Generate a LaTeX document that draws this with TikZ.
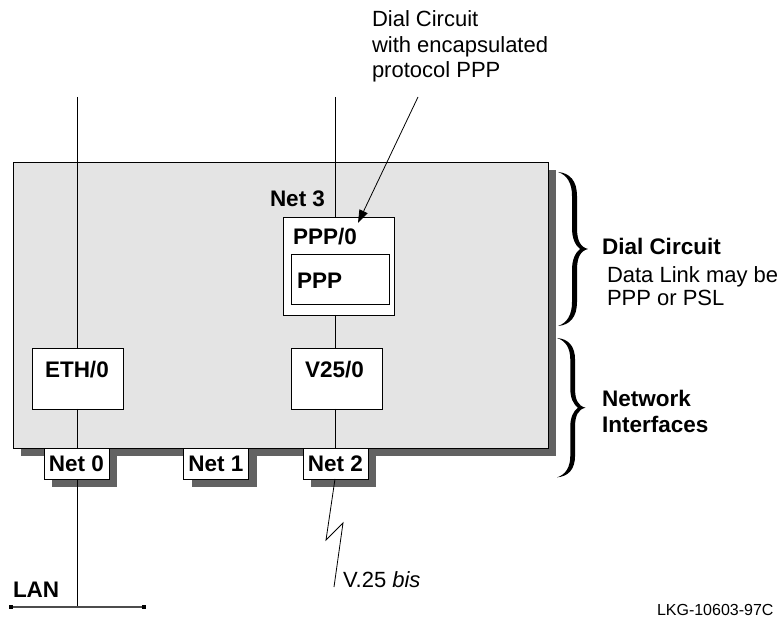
\documentclass[tikz,border=0pt]{standalone}
\usepackage{fontspec}
\setmainfont{Liberation Sans}
\usetikzlibrary{arrows.meta,shadows}
\definecolor{panelgray}{HTML}{E4E4E4}
\definecolor{shadegray}{HTML}{626262}
\newcommand\lblbf{\fontsize{22.5}{26}\selectfont\bfseries}
\newcommand\lblrm{\fontsize{22}{25.5}\selectfont}
\begin{document}
\begin{tikzpicture}[x=1pt,y=-1pt,
  box/.style={draw, line width=0.9pt, fill=white, inner sep=0pt, outer sep=0pt},
  shadowed/.style={drop shadow={shadow xshift=8pt, shadow yshift=-8pt, fill=shadegray, opacity=1}},
  netbox/.style={box, shadowed, minimum width=65pt, minimum height=31pt, font=\lblbf},
  wire/.style={line width=0.8pt},
  lbl/.style={inner sep=0pt, outer sep=0pt, anchor=base west},
  boldlbl/.style={lbl, font=\lblbf},
  plainlbl/.style={lbl, font=\lblrm},
  bracefill/.style={fill=black}]
\useasboundingbox (0,0) rectangle (782,617);

% main panel
\node[box, shadowed, fill=panelgray, minimum width=535pt, minimum height=286pt] (router) at (280.5,305) {};

% interface boxes
\node[box, minimum width=111pt, minimum height=98pt] (ppp0) at (338.5,266) {};
\node[box, minimum width=98pt, minimum height=50pt] (ppp) at (340,279) {};
\node[box, minimum width=91pt, minimum height=61pt] (eth) at (77.5,378.5) {};
\node[box, minimum width=91pt, minimum height=61pt] (v25) at (336.5,378.5) {};

% net boxes
\node[netbox] (net0) at (76.5,463.5) {Net 0};
\node[netbox] (net1) at (216,463.5) {Net 1};
\node[netbox] (net2) at (335.5,463.5) {Net 2};

% labels inside
\node[boldlbl] (net3) at (270,207) {Net 3};
\node[boldlbl] (ppp0t) at (293,245) {PPP/0};
\node[boldlbl] (pppt) at (297,289) {PPP};
\node[boldlbl] (etht) at (45,378) {ETH/0};
\node[boldlbl] (v25t) at (305,378) {V25/0};

% coordinates
\coordinate (ltop) at (77,97);
\coordinate (mtop) at (335,97);
\coordinate (lanL) at (11,607);
\coordinate (lanR) at (144,607);
\coordinate (zz1) at (326,540);
\coordinate (zz2) at (343,523);
\coordinate (vend) at (334,587);
\coordinate (arrS) at (418,97);
\coordinate (arrE) at (358,223);

% wires
\draw[wire] (ltop) -- (ltop |- eth.north);
\draw[wire] (ltop |- eth.south) -- (ltop |- net0.north);
\draw[wire] (ltop |- net0.south) -- (ltop |- lanL);
\draw[wire] (mtop) -- (mtop |- ppp0.north);
\draw[wire] (mtop |- ppp0.south) -- (mtop |- v25.north);
\draw[wire] (mtop |- v25.south) -- (mtop |- net2.north);
\draw[wire, line join=miter] (mtop |- net2.south) -- (zz1) -- (zz2) -- (vend);

% LAN
\draw[line width=1.3pt, draw=black!70] (lanL) -- (lanR);
\fill (lanL) ++(-1.8,-1.8) rectangle ++(3.6,3.6);
\fill (lanR) ++(-1.8,-1.8) rectangle ++(3.6,3.6);
\node[boldlbl] (lant) at (13,597) {LAN};

% arrow
\draw[wire, -{Triangle[length=13pt,width=9pt]}] (arrS) -- (arrE);

% top annotation
\node[plainlbl] (dc1) at (372,27) {Dial Circuit};
\node[plainlbl] (dc2) at (372,53) {with encapsulated};
\node[plainlbl] (dc3) at (372,78) {protocol PPP};

% braces
\begin{scope}[shift={(558,172)}]
\fill[bracefill] (0,0) .. controls (12,1) and (19,9) .. (19,24) -- (19,56)
  .. controls (19,68) and (22,75) .. (30,77)
  .. controls (22,79) and (19,86) .. (19,98) -- (19,130)
  .. controls (19,145) and (12,153) .. (0,154)
  .. controls (9,151) and (14,143) .. (14,130) -- (14,98)
  .. controls (14,88) and (17,81) .. (22,77)
  .. controls (17,73) and (14,66) .. (14,56) -- (14,24)
  .. controls (14,11) and (9,3) .. (0,0) -- cycle;
\end{scope}
\begin{scope}[shift={(557,338)}, yscale=0.905, xscale=0.95]
\fill[bracefill] (0,0) .. controls (12,1) and (19,9) .. (19,24) -- (19,56)
  .. controls (19,68) and (22,75) .. (30,77)
  .. controls (22,79) and (19,86) .. (19,98) -- (19,130)
  .. controls (19,145) and (12,153) .. (0,154)
  .. controls (9,151) and (14,143) .. (14,130) -- (14,98)
  .. controls (14,88) and (17,81) .. (22,77)
  .. controls (17,73) and (14,66) .. (14,56) -- (14,24)
  .. controls (14,11) and (9,3) .. (0,0) -- cycle;
\end{scope}

% right annotations
\node[boldlbl] (dcr) at (602,255) {Dial Circuit};
\node[plainlbl] (dl1) at (607,283) {Data Link may be};
\node[plainlbl] (dl2) at (607,306) {PPP or PSL};
\node[boldlbl] (ni1) at (602,407) {Network};
\node[boldlbl] (ni2) at (602,433) {Interfaces};

% bottom labels
\node[plainlbl] (v25bis) at (343,587) {V.25 \textit{bis}};
\node[lbl, font=\fontsize{16}{18}\selectfont] (fig) at (657,615) {LKG-10603-97C};
\end{tikzpicture}
\end{document}
